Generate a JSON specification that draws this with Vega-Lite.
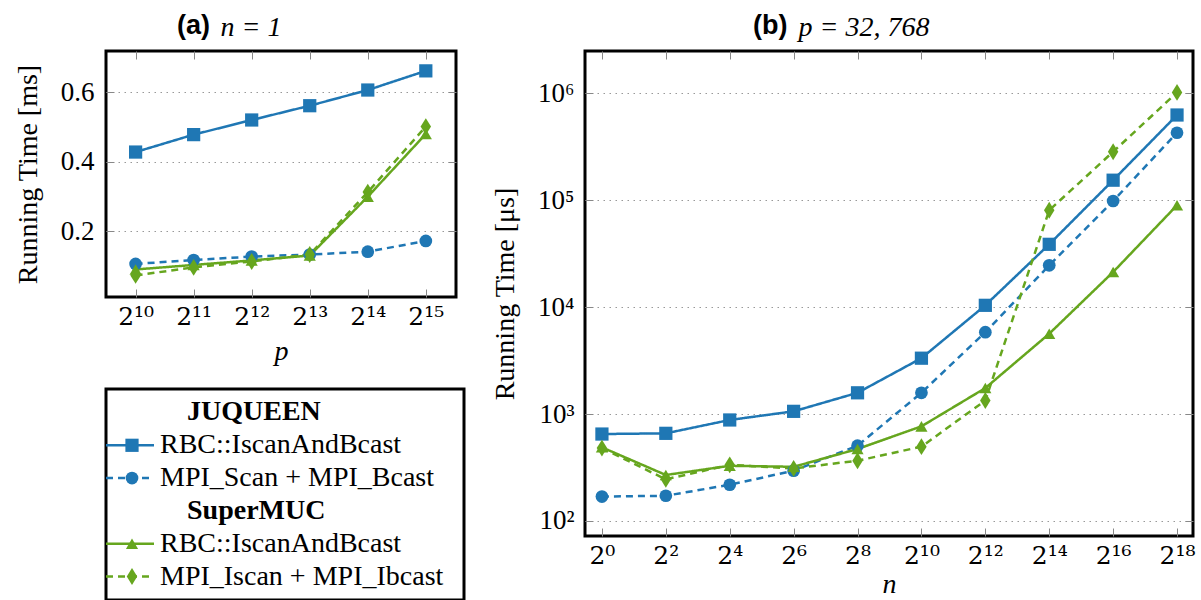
{
  "$schema": "https://vega.github.io/schema/vega-lite/v6.json",
  "background": "white",
  "padding": {"left": 12, "top": 10, "right": 5, "bottom": 0},
  "config": {
    "view": {"stroke": "black", "strokeWidth": 3},
    "legend": {"disable": true},
    "axis": {"labelColor": "black", "titleColor": "black", "labelFont": "Times New Roman", "titleFont": "Times New Roman", "labelFontSize": 27, "titleFontSize": 28, "titleFontWeight": "normal", "domain": false, "tickColor": "#888", "tickWidth": 1, "tickSize": -8, "gridColor": "#999", "gridDash": [1.5, 4.5], "gridWidth": 1}
  },
  "datasets": {
    "a": [
      {"p": 10, "s": "JQ_RBC", "t": 0.428}, {"p": 11, "s": "JQ_RBC", "t": 0.478}, {"p": 12, "s": "JQ_RBC", "t": 0.52}, {"p": 13, "s": "JQ_RBC", "t": 0.561}, {"p": 14, "s": "JQ_RBC", "t": 0.606}, {"p": 15, "s": "JQ_RBC", "t": 0.661},
      {"p": 10, "s": "JQ_MPI", "t": 0.107}, {"p": 11, "s": "JQ_MPI", "t": 0.118}, {"p": 12, "s": "JQ_MPI", "t": 0.128}, {"p": 13, "s": "JQ_MPI", "t": 0.134}, {"p": 14, "s": "JQ_MPI", "t": 0.142}, {"p": 15, "s": "JQ_MPI", "t": 0.173},
      {"p": 10, "s": "SM_RBC", "t": 0.091}, {"p": 11, "s": "SM_RBC", "t": 0.104}, {"p": 12, "s": "SM_RBC", "t": 0.117}, {"p": 13, "s": "SM_RBC", "t": 0.131}, {"p": 14, "s": "SM_RBC", "t": 0.3}, {"p": 15, "s": "SM_RBC", "t": 0.48},
      {"p": 10, "s": "SM_MPI", "t": 0.074}, {"p": 11, "s": "SM_MPI", "t": 0.097}, {"p": 12, "s": "SM_MPI", "t": 0.114}, {"p": 13, "s": "SM_MPI", "t": 0.134}, {"p": 14, "s": "SM_MPI", "t": 0.313}, {"p": 15, "s": "SM_MPI", "t": 0.501}
    ],
    "b": [
      {"n": 0, "s": "JQ_RBC", "t": 650}, {"n": 2, "s": "JQ_RBC", "t": 660}, {"n": 4, "s": "JQ_RBC", "t": 880}, {"n": 6, "s": "JQ_RBC", "t": 1060}, {"n": 8, "s": "JQ_RBC", "t": 1580}, {"n": 10, "s": "JQ_RBC", "t": 3330}, {"n": 12, "s": "JQ_RBC", "t": 10400}, {"n": 14, "s": "JQ_RBC", "t": 38700}, {"n": 16, "s": "JQ_RBC", "t": 154000}, {"n": 18, "s": "JQ_RBC", "t": 627000},
      {"n": 0, "s": "JQ_MPI", "t": 169}, {"n": 2, "s": "JQ_MPI", "t": 172}, {"n": 4, "s": "JQ_MPI", "t": 218}, {"n": 6, "s": "JQ_MPI", "t": 295}, {"n": 8, "s": "JQ_MPI", "t": 506}, {"n": 10, "s": "JQ_MPI", "t": 1580}, {"n": 12, "s": "JQ_MPI", "t": 5830}, {"n": 14, "s": "JQ_MPI", "t": 24600}, {"n": 16, "s": "JQ_MPI", "t": 98400}, {"n": 18, "s": "JQ_MPI", "t": 428000},
      {"n": 0, "s": "SM_RBC", "t": 488}, {"n": 2, "s": "SM_RBC", "t": 269}, {"n": 4, "s": "SM_RBC", "t": 328}, {"n": 6, "s": "SM_RBC", "t": 321}, {"n": 8, "s": "SM_RBC", "t": 471}, {"n": 10, "s": "SM_RBC", "t": 767}, {"n": 12, "s": "SM_RBC", "t": 1750}, {"n": 14, "s": "SM_RBC", "t": 5640}, {"n": 16, "s": "SM_RBC", "t": 21300}, {"n": 18, "s": "SM_RBC", "t": 89800},
      {"n": 0, "s": "SM_MPI", "t": 480}, {"n": 2, "s": "SM_MPI", "t": 245}, {"n": 4, "s": "SM_MPI", "t": 335}, {"n": 6, "s": "SM_MPI", "t": 310}, {"n": 8, "s": "SM_MPI", "t": 366}, {"n": 10, "s": "SM_MPI", "t": 495}, {"n": 12, "s": "SM_MPI", "t": 1340}, {"n": 14, "s": "SM_MPI", "t": 80600}, {"n": 16, "s": "SM_MPI", "t": 284000}, {"n": 18, "s": "SM_MPI", "t": 1020000}
    ],
    "leg": [
      {"row": 0, "label": "JUQUEEN"},
      {"row": 1, "label": "RBC::IscanAndBcast", "s": "JQ_RBC"},
      {"row": 2, "label": "MPI_Scan + MPI_Bcast", "s": "JQ_MPI"},
      {"row": 3, "label": "SuperMUC"},
      {"row": 4, "label": "RBC::IscanAndBcast", "s": "SM_RBC"},
      {"row": 5, "label": "MPI_Iscan + MPI_Ibcast", "s": "SM_MPI"}
    ]
  },
  "hconcat": [
    {
      "spacing": 20,
      "vconcat": [
        {
          "width": 350,
          "height": 246,
          "title": {"text": "(a)", "anchor": "start", "frame": "group", "dx": 71, "font": "Liberation Sans", "fontSize": 27, "fontWeight": "bold", "color": "black", "offset": -27},
          "data": {"name": "a"},
          "layer": [
            {
              "mark": {"type": "line", "strokeWidth": 2.5},
              "encoding": {
                "x": {"field": "p", "type": "quantitative", "scale": {"domain": [9.49, 15.52], "nice": false, "zero": false}, "axis": {"values": [10, 11, 12, 13, 14, 15], "labelExpr": "['2¹⁰','2¹¹','2¹²','2¹³','2¹⁴','2¹⁵'][datum.value-10]", "labelFont": "DejaVu Serif", "labelFontSize": 25, "grid": false, "labelPadding": 15, "title": "p", "titleFontStyle": "italic", "titlePadding": 8}},
                "y": {"field": "t", "type": "quantitative", "scale": {"domain": [0.012, 0.718], "nice": false, "zero": false}, "axis": {"values": [0.2, 0.4, 0.6], "format": ".1f", "grid": true, "labelPadding": 20, "title": "Running Time [ms]", "titlePadding": 18}},
                "color": {"field": "s", "type": "nominal", "scale": {"domain": ["JQ_RBC", "JQ_MPI", "SM_RBC", "SM_MPI"], "range": ["#1f77b4", "#1f77b4", "#66a61e", "#66a61e"]}},
                "strokeDash": {"field": "s", "type": "nominal", "scale": {"domain": ["JQ_RBC", "JQ_MPI", "SM_RBC", "SM_MPI"], "range": [[1, 0], [7, 5], [1, 0], [7, 5]]}}
              }
            },
            {
              "mark": {"type": "point", "filled": true, "opacity": 1},
              "encoding": {
                "x": {"field": "p", "type": "quantitative", "axis": {"orient": "top", "values": [10, 11, 12, 13, 14, 15], "labels": false, "grid": false, "title": "n = 1", "titleFontStyle": "italic", "titleFontSize": 28, "titleAlign": "left", "titleAnchor": "start", "titleBaseline": "alphabetic", "titleX": 114, "titleY": -16}},
                "y": {"field": "t", "type": "quantitative", "axis": {"orient": "right", "values": [0.2, 0.4, 0.6], "labels": false, "title": null, "grid": false}},
                "color": {"field": "s", "type": "nominal"},
                "shape": {"field": "s", "type": "nominal", "scale": {"domain": ["JQ_RBC", "JQ_MPI", "SM_RBC", "SM_MPI"], "range": ["square", "circle", "triangle-up", "M0,-1.45L0.9,0L0,1.45L-0.9,0Z"]}},
                "size": {"field": "s", "type": "nominal", "scale": {"domain": ["JQ_RBC", "JQ_MPI", "SM_RBC", "SM_MPI"], "range": [175, 135, 200, 170]}}
              }
            }
          ],
          "resolve": {"axis": {"x": "independent", "y": "independent"}}
        },
        {
          "width": 358,
          "height": 211,
          "data": {"name": "leg"},
          "layer": [
            {
              "transform": [{"filter": "isValid(datum.s)"}],
              "mark": {"type": "rule", "strokeWidth": 2.5},
              "encoding": {
                "x": {"datum": 0, "type": "quantitative", "scale": {"domain": [0, 358], "nice": false, "zero": false}, "axis": null},
                "x2": {"datum": 48},
                "y": {"field": "row", "type": "ordinal", "scale": {"type": "point", "padding": 0.716}, "axis": null},
                "color": {"field": "s", "type": "nominal"},
                "strokeDash": {"field": "s", "type": "nominal"}
              }
            },
            {
              "transform": [{"filter": "isValid(datum.s)"}],
              "mark": {"type": "point", "filled": true, "opacity": 1},
              "encoding": {
                "x": {"datum": 26, "type": "quantitative"},
                "y": {"field": "row", "type": "ordinal"},
                "color": {"field": "s", "type": "nominal"},
                "shape": {"field": "s", "type": "nominal"},
                "size": {"field": "s", "type": "nominal"}
              }
            },
            {
              "transform": [{"filter": "isValid(datum.s)"}],
              "mark": {"type": "text", "align": "left", "baseline": "middle", "font": "Times New Roman", "fontSize": 28, "color": "black"},
              "encoding": {
                "x": {"datum": 54, "type": "quantitative"},
                "y": {"field": "row", "type": "ordinal"},
                "text": {"field": "label"}
              }
            },
            {
              "transform": [{"filter": "!isValid(datum.s)"}],
              "mark": {"type": "text", "align": "left", "baseline": "middle", "font": "Times New Roman", "fontSize": 28, "fontWeight": "bold", "color": "black"},
              "encoding": {
                "x": {"datum": 81, "type": "quantitative"},
                "y": {"field": "row", "type": "ordinal"},
                "text": {"field": "label"}
              }
            }
          ]
        }
      ]
    },
    {
      "vconcat": [
        {
          "width": 608,
          "height": 485,
          "title": {"text": "(b)", "anchor": "start", "frame": "group", "dx": 168, "font": "Liberation Sans", "fontSize": 27, "fontWeight": "bold", "color": "black", "offset": -27},
          "data": {"name": "b"},
          "layer": [
            {
              "mark": {"type": "line", "strokeWidth": 2.5},
              "encoding": {
                "x": {"field": "n", "type": "quantitative", "scale": {"domain": [-0.53, 18.5], "nice": false, "zero": false}, "axis": {"values": [0, 2, 4, 6, 8, 10, 12, 14, 16, 18], "labelExpr": "['2⁰','2²','2⁴','2⁶','2⁸','2¹⁰','2¹²','2¹⁴','2¹⁶','2¹⁸'][datum.value/2]", "labelFont": "DejaVu Serif", "labelFontSize": 25, "grid": false, "labelPadding": 15, "title": "n", "titleFontStyle": "italic", "titlePadding": 2}},
                "y": {"field": "t", "type": "quantitative", "scale": {"type": "log", "domain": [72.3, 2489000], "nice": false}, "axis": {"values": [100, 1000, 10000, 100000, 1000000], "labelExpr": "'10' + ['⁰','¹','²','³','⁴','⁵','⁶','⁷'][round(log(datum.value)/LN10)]", "grid": true, "labelPadding": 19, "title": "Running Time [μs]", "titlePadding": 18}},
                "color": {"field": "s", "type": "nominal"},
                "strokeDash": {"field": "s", "type": "nominal"}
              }
            },
            {
              "mark": {"type": "point", "filled": true, "opacity": 1},
              "encoding": {
                "x": {"field": "n", "type": "quantitative", "axis": {"orient": "top", "values": [0, 2, 4, 6, 8, 10, 12, 14, 16, 18], "labels": false, "grid": false, "title": "p = 32, 768", "titleFontStyle": "italic", "titleFontSize": 28, "titleAlign": "left", "titleAnchor": "start", "titleBaseline": "alphabetic", "titleX": 213, "titleY": -16}},
                "y": {"field": "t", "type": "quantitative", "axis": {"orient": "right", "values": [100, 1000, 10000, 100000, 1000000], "labels": false, "title": null, "grid": false}},
                "color": {"field": "s", "type": "nominal"},
                "shape": {"field": "s", "type": "nominal"},
                "size": {"field": "s", "type": "nominal"}
              }
            }
          ],
          "resolve": {"axis": {"x": "independent", "y": "independent"}}
        }
      ]
    }
  ],
  "spacing": 24
}
